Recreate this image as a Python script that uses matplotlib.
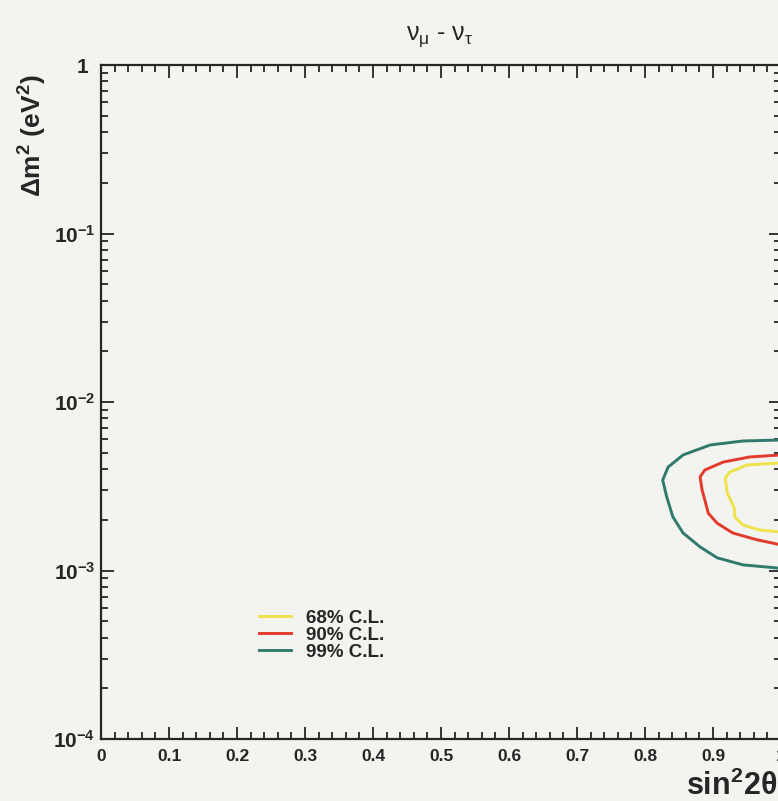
import matplotlib
matplotlib.use("Agg")
import matplotlib.pyplot as plt
from matplotlib.ticker import MultipleLocator, LogLocator, FixedLocator, FixedFormatter, NullFormatter

plt.rcParams['font.family'] = ['Liberation Sans', 'DejaVu Sans']
plt.rcParams['mathtext.fontset'] = 'custom'
plt.rcParams['mathtext.rm'] = 'Liberation Sans'
plt.rcParams['mathtext.bf'] = 'Liberation Sans:bold'
plt.rcParams['mathtext.it'] = 'Liberation Sans:italic'

# Allowed-region contours in (sin^2 2theta, dm^2 [eV^2])
cl68_x = [1.0, 0.950, 0.925, 0.918, 0.921, 0.928, 0.932, 0.932, 0.944, 0.969, 1.0]
cl68_y = [4.35e-3, 4.23e-3, 3.84e-3, 3.54e-3, 2.88e-3, 2.52e-3, 2.29e-3, 2.08e-3, 1.86e-3, 1.74e-3, 1.69e-3]

cl90_x = [1.0, 0.954, 0.915, 0.888, 0.881, 0.884, 0.888, 0.893, 0.906, 0.929, 0.965, 1.0]
cl90_y = [4.85e-3, 4.72e-3, 4.40e-3, 3.95e-3, 3.59e-3, 3.00e-3, 2.62e-3, 2.19e-3, 1.91e-3, 1.67e-3, 1.52e-3, 1.42e-3]

cl99_x = [1.0, 0.944, 0.896, 0.856, 0.834, 0.826, 0.832, 0.841, 0.856, 0.881, 0.906, 0.944, 1.0]
cl99_y = [5.95e-3, 5.87e-3, 5.56e-3, 4.85e-3, 4.11e-3, 3.44e-3, 2.73e-3, 2.08e-3, 1.67e-3, 1.38e-3, 1.19e-3, 1.08e-3, 1.03e-3]

cl_labels = ['68% C.L.', '90% C.L.', '99% C.L.']
cl_colors = ['#efe24a', '#e23b2c', '#2f7a6c']

x_ticks = [0, 0.1, 0.2, 0.3, 0.4, 0.5, 0.6, 0.7, 0.8, 0.9, 1.0]
x_ticklabels = ['0', '0.1', '0.2', '0.3', '0.4', '0.5', '0.6', '0.7', '0.8', '0.9', '1']
y_ticks = [1e-4, 1e-3, 1e-2, 1e-1, 1]
y_ticklabels = [r'$\mathbf{10^{-4}}$', r'$\mathbf{10^{-3}}$', r'$\mathbf{10^{-2}}$',
                r'$\mathbf{10^{-1}}$', r'$\mathbf{1}$  ']

bg = '#f3f3ef'
ink = '#262626'
fig = plt.figure(figsize=(7.78, 8.01), dpi=100, facecolor=bg)
ax = fig.add_axes([101 / 778, 62 / 801, 680 / 778, 674 / 801], facecolor=bg)

handles = []
for xs, ys, c, lab in zip([cl68_x, cl90_x, cl99_x], [cl68_y, cl90_y, cl99_y], cl_colors, cl_labels):
    h, = ax.plot(xs, ys, color=c, lw=2.1, label=lab, solid_joinstyle='round')
    handles.append(h)

ax.set_yscale('log')
ax.set_xlim(0, 1)
ax.set_ylim(1e-4, 1)

ax.xaxis.set_major_locator(FixedLocator(x_ticks))
ax.xaxis.set_major_formatter(FixedFormatter(x_ticklabels))
ax.xaxis.set_minor_locator(MultipleLocator(0.02))
ax.yaxis.set_major_locator(FixedLocator(y_ticks))
ax.yaxis.set_major_formatter(FixedFormatter(y_ticklabels))
ax.yaxis.set_minor_locator(LogLocator(base=10, subs=range(2, 10)))
ax.yaxis.set_minor_formatter(NullFormatter())

ax.tick_params(which='both', direction='in', top=True, right=True, color=ink, width=1.3)
ax.tick_params(which='major', length=9)
ax.tick_params(which='minor', length=5)
ax.tick_params(axis='x', which='major', pad=7, labelsize=12.5)
ax.tick_params(axis='y', which='major', pad=4, labelsize=15)
for lbl in ax.get_xticklabels():
    lbl.set_fontweight('bold')
    lbl.set_color(ink)
for lbl in ax.get_yticklabels():
    lbl.set_color(ink)
for s in ax.spines.values():
    s.set_linewidth(1.6)
    s.set_color(ink)

ax.text(-0.10, 0.895, r'$\mathbf{\Delta m^2\ (eV^2)}$', transform=ax.transAxes, rotation=90,
        ha='center', va='center', fontsize=19, color=ink)
fig.text(686 / 778, 1 - 786 / 801, r'$\mathbf{sin^22\theta}$', ha='left', va='center',
         fontsize=22, color=ink)
fig.text(440 / 778, 1 - 37 / 801, r'$\mathrm{\nu_{\mu}}$ - $\mathrm{\nu_{\tau}}$',
         ha='center', va='center', fontsize=18, color=ink)

leg = ax.legend(handles=handles, loc='upper left', bbox_to_anchor=(0.222, 0.203), frameon=False,
                handlelength=1.7, handletextpad=0.8, labelspacing=0.0, borderaxespad=0.0,
                prop={'weight': 'bold', 'size': 13.5})
for t in leg.get_texts():
    t.set_color(ink)

fig.savefig('out.png', dpi=100, facecolor=bg)
